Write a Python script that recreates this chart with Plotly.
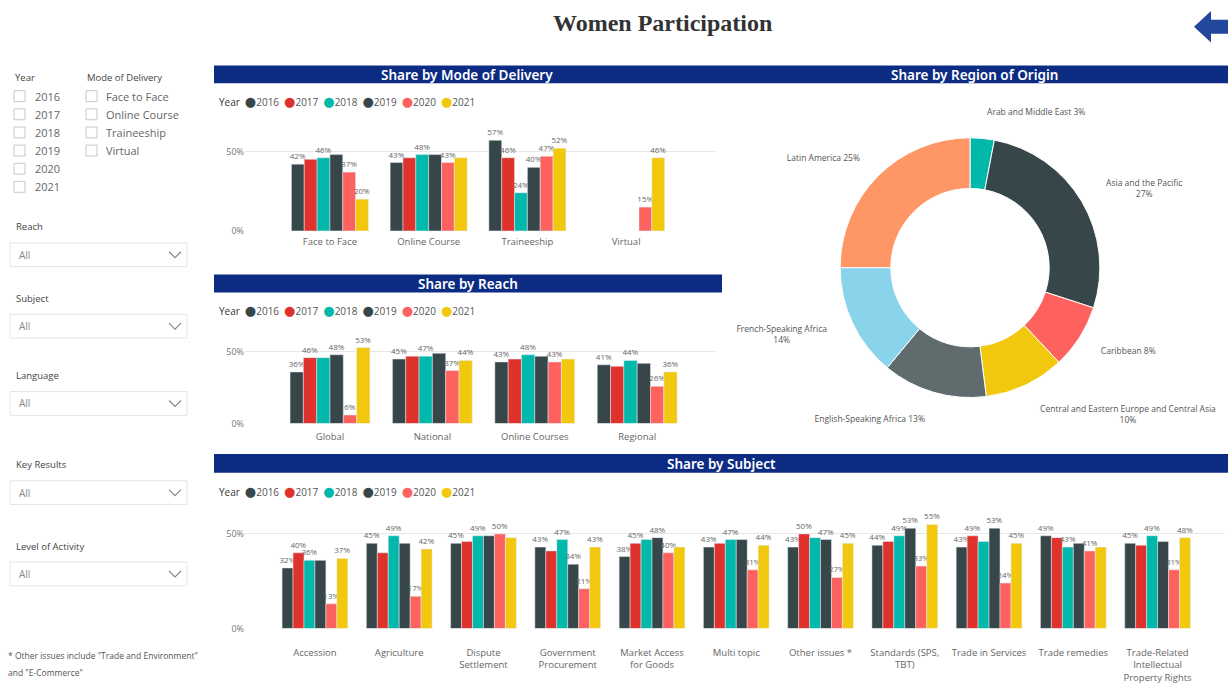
import plotly.graph_objects as go

W, H = 1228, 687
def X(p): return p / W
def Y(p): return 1 - p / H

# ---------------- data ----------------
years = ["2016", "2017", "2018", "2019", "2020", "2021"]
year_colors = ["#374649", "#E0322C", "#01B8AA", "#374649", "#FD625E", "#F2C80F"]

delivery_cats = ["Face to Face", "Online Course", "Traineeship", "Virtual"]
delivery_values = [
    [42, 43, 57, None],   # 2016
    [45, 46, 46, None],   # 2017
    [46, 48, 24, None],   # 2018
    [48, 48, 40, None],   # 2019
    [37, 43, 47, 15],     # 2020
    [20, 46, 52, 46],     # 2021
]
# which data labels are visible in the reference (1 = shown)
delivery_label_shown = [
    [1, 1, 1, 0],
    [0, 0, 1, 0],
    [1, 1, 1, 0],
    [0, 0, 1, 0],
    [1, 1, 1, 1],
    [1, 0, 1, 1],
]

reach_cats = ["Global", "National", "Online Courses", "Regional"]
reach_values = [
    [36, 45, 43, 41],
    [46, 47, 45, 40],
    [46, 47, 48, 44],
    [48, 49, 47, 42],
    [6, 37, 43, 26],
    [53, 44, 45, 36],
]
reach_label_shown = [
    [1, 1, 1, 1],
    [1, 0, 0, 0],
    [0, 1, 1, 1],
    [1, 0, 0, 0],
    [1, 1, 1, 1],
    [1, 1, 0, 1],
]

subject_cats = ["Accession", "Agriculture", "Dispute Settlement", "Government Procurement",
                "Market Access for Goods", "Multi topic", "Other issues *",
                "Standards (SPS, TBT)", "Trade in Services", "Trade remedies",
                "Trade-Related Intellectual Property Rights"]
subject_ticklabels = ["Accession", "Agriculture", "Dispute<br>Settlement", "Government<br>Procurement",
                      "Market Access<br>for Goods", "Multi topic", "Other issues *",
                      "Standards (SPS,<br>TBT)", "Trade in Services", "Trade remedies",
                      "Trade-Related<br>Intellectual<br>Property Rights"]
subject_values = [
    [32, 45, 45, 43, 38, 43, 43, 44, 43, 49, 45],
    [40, 40, 46, 41, 45, 45, 50, 46, 49, 48, 44],
    [36, 49, 49, 47, 47, 47, 48, 49, 46, 43, 49],
    [36, 45, 49, 34, 48, 47, 47, 53, 53, 45, 46],
    [13, 17, 50, 21, 40, 31, 27, 33, 24, 41, 31],
    [37, 42, 48, 43, 43, 44, 45, 55, 45, 43, 48],
]
subject_label_shown = [
    [1, 1, 1, 1, 1, 1, 1, 1, 1, 1, 1],
    [1, 0, 0, 0, 1, 0, 1, 0, 1, 0, 0],
    [1, 1, 1, 1, 0, 1, 0, 1, 0, 1, 1],
    [0, 0, 0, 1, 1, 0, 1, 1, 1, 0, 0],
    [1, 1, 1, 1, 1, 1, 1, 1, 1, 1, 1],
    [1, 1, 0, 1, 0, 1, 1, 1, 1, 0, 1],
]

region_labels = ["Arab and Middle East", "Asia and the Pacific", "Caribbean",
                 "Central and Eastern Europe and Central Asia", "English-Speaking Africa",
                 "French-Speaking Africa", "Latin America"]
region_values = [3, 27, 8, 10, 13, 14, 25]
region_colors = ["#01B8AA", "#374649", "#FD625E", "#F2C80F", "#5F6B6D", "#8AD4EB", "#FE9666"]
region_wrap = [False, True, False, True, False, True, False]

filter_years = ["2016", "2017", "2018", "2019", "2020", "2021"]
filter_modes = ["Face to Face", "Online Course", "Traineeship", "Virtual"]
dropdowns = ["Reach", "Subject", "Language", "Key Results", "Level of Activity"]

# ---------------- figure ----------------
fig = go.Figure()

def add_bars(cats, values, shown, xa, ya):
    for yr, col, vals, sh in zip(years, year_colors, values, shown):
        labels = [f"{v}%" if (v is not None and s) else "" for v, s in zip(vals, sh)]
        fig.add_trace(go.Bar(
            x=cats, y=vals, name=yr, marker_color=col, xaxis=xa, yaxis=ya,
            text=labels, textposition="outside", constraintext="none",
            cliponaxis=False, textfont=dict(size=8, color="#666"),
            showlegend=False, hoverinfo="skip"))

add_bars(delivery_cats, delivery_values, delivery_label_shown, "x", "y")
add_bars(reach_cats, reach_values, reach_label_shown, "x2", "y2")
add_bars(subject_cats, subject_values, subject_label_shown, "x3", "y3")

# donut (center 970,270 ; outer radius 131)
fig.add_trace(go.Pie(
    labels=region_labels, values=region_values, textinfo="none",
    sort=False, direction="clockwise", hole=0.61,
    marker=dict(colors=region_colors, line=dict(color="white", width=1)),
    showlegend=False, hoverinfo="skip",
    domain=dict(x=[X(839), X(1101)], y=[Y(401), Y(139)])))
# transparent, slightly larger ring that only carries the outside data labels
pie_text = [f"{l}<br>{v}%" if w else f"{l} {v}%" for l, v, w in zip(region_labels, region_values, region_wrap)]
fig.add_trace(go.Pie(
    labels=region_labels, values=region_values, text=pie_text, textinfo="text",
    textposition="outside", sort=False, direction="clockwise", hole=0.97,
    marker=dict(colors=["rgba(0,0,0,0)"] * len(region_values), line=dict(width=0)),
    textfont=dict(size=8.5, color="#555"), showlegend=False, hoverinfo="skip",
    domain=dict(x=[X(817), X(1123)], y=[Y(423), Y(117)])))

ytick = dict(tickvals=[0, 50], ticktext=["0%", "50%"], showgrid=True, gridcolor="#e6e6e6",
             tickfont=dict(size=9, color="#777"), zeroline=False, showline=False, fixedrange=True)
xtick = dict(tickfont=dict(size=9.5, color="#666"), showgrid=False, zeroline=False, showline=False)

fig.update_layout(
    width=W, height=H, margin=dict(l=0, r=0, t=0, b=0),
    paper_bgcolor="white", plot_bgcolor="white",
    barmode="group", bargap=0.22, bargroupgap=0,
    font=dict(family="Open Sans, DejaVu Sans, sans-serif", color="#555"),
    xaxis=dict(domain=[X(245), X(715)], anchor="y", range=[-0.86, 3.9],
               ticklabelstandoff=4, **xtick),
    yaxis=dict(domain=[Y(233), Y(120)], anchor="x", range=[0, 70.4], **ytick),
    xaxis2=dict(domain=[X(245), X(715)], anchor="y2", range=[-0.83, 3.76],
                ticklabelstandoff=6, **xtick),
    yaxis2=dict(domain=[Y(427.3), Y(320)], anchor="x2", range=[0, 74.2], **ytick),
    xaxis3=dict(domain=[X(245), X(1225)], anchor="y3", range=[-0.83, 10.8],
                tickvals=subject_cats, ticktext=subject_ticklabels,
                ticklabelstandoff=17, **xtick),
    yaxis3=dict(domain=[Y(634), Y(505)], anchor="x3", range=[0, 67.6], **ytick),
)

shapes = []
ann = []

def rect(x0, y0, x1, y1, **kw):
    shapes.append(dict(type="rect", xref="paper", yref="paper",
                       x0=X(x0), x1=X(x1), y0=Y(y1), y1=Y(y0), **kw))

def path(pts, closed=False, **kw):
    d = "M " + " L ".join(f"{X(a):.5f},{Y(b):.5f}" for a, b in pts) + (" Z" if closed else "")
    shapes.append(dict(type="path", xref="paper", yref="paper", path=d, **kw))

def txt(x, y, s, size=10, color="#555", xanchor="left", family=None, weight=None):
    f = dict(size=size, color=color)
    if family:
        f["family"] = family
    if weight:
        f["weight"] = weight
    ann.append(dict(x=X(x), y=Y(y), xref="paper", yref="paper", text=s, showarrow=False,
                    xanchor=xanchor, yanchor="middle", font=f))

# title
txt(662, 23, "Women Participation", size=24, color="#333", xanchor="center",
    family="Liberation Serif, DejaVu Serif, serif", weight=700)
# back arrow
path([(1228, 20), (1211, 20), (1211, 11), (1194, 27), (1211, 43), (1211, 34), (1228, 34)],
     closed=True, fillcolor="#23479B", line=dict(width=0))

# header bars
NAVY = "#0C2C84"
for x0, y0, x1, y1, label in [(214, 66, 720, 84, "Share by Mode of Delivery"),
                               (720, 66, 1228, 84, "Share by Region of Origin"),
                               (214, 277, 722, 295, "Share by Reach"),
                               (214, 458, 1228, 477, "Share by Subject")]:
    rect(x0, y0, x1, y1, fillcolor=NAVY, line=dict(width=0))
    txt((x0 + x1) / 2, (y0 + y1) / 2 + 0.5, label, size=13.5, color="white", xanchor="center",
        family="Noto Sans, Open Sans, sans-serif", weight=600)

# custom legends (Power BI style: "Year ● 2016 ● 2017 ...")
def legend_row(y):
    parts = ["<span style='color:#333'>Year</span>"]
    for yr, c in zip(years, year_colors):
        parts.append(f"<span style='color:{c};font-size:13px'>●</span>{yr}")
    txt(217, y, "\u2002".join(parts), size=10, color="#555")

legend_row(102)
legend_row(313)
legend_row(495)

# left filter panel
txt(13, 78, "Year", size=9.5, color="#444")
txt(85, 78, "Mode of Delivery", size=9.5, color="#444")
for i, yr in enumerate(filter_years):
    yy = 97 + i * 18.3
    rect(14, yy - 5.5, 25, yy + 5.5, fillcolor="white", line=dict(color="#c8c8c8", width=1))
    txt(33, yy, yr, size=11, color="#666")
for i, m in enumerate(filter_modes):
    yy = 97 + i * 18.3
    rect(86, yy - 5.5, 97, yy + 5.5, fillcolor="white", line=dict(color="#c8c8c8", width=1))
    txt(104, yy, m, size=11, color="#666")

for lab, ly in zip(dropdowns, [229, 301, 379, 469, 551]):
    txt(14, ly, lab, size=9.5, color="#444")
    by0, by1 = ly + 16, ly + 40
    rect(10, by0, 187, by1, fillcolor="white", line=dict(color="#e4e4e4", width=1))
    txt(17, (by0 + by1) / 2, "All", size=10, color="#888")
    cy = (by0 + by1) / 2
    path([(169, cy - 3), (175, cy + 3), (181, cy - 3)], line=dict(color="#888", width=1.2))

txt(6, 661, '* Other issues include "Trade and Environment"', size=8.5, color="#555")
txt(6, 678, 'and "E-Commerce"', size=8.5, color="#555")

fig.update_layout(shapes=shapes, annotations=ann)
fig.write_html("out.html", config={"displayModeBar": False},
               post_script="document.body.style.margin='0';document.body.style.overflow='hidden';")
